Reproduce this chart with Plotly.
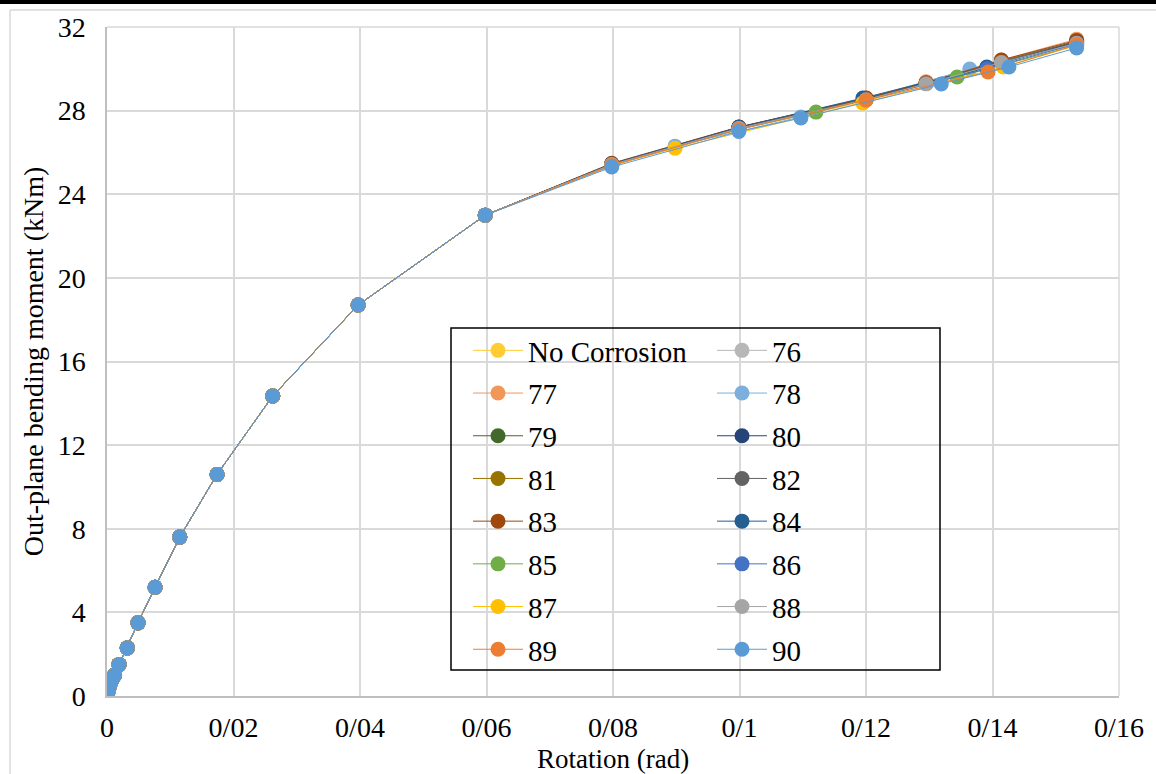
import plotly.graph_objects as go

# ---- data ----
common_x = [0, 0.0002, 0.0004, 0.0006, 0.0009, 0.0012, 0.0019, 0.0032, 0.0049,
            0.0076, 0.0115, 0.0174, 0.0262, 0.0397, 0.0598]
common_y = [0.1, 0.25, 0.45, 0.65, 0.85, 1.0, 1.5, 2.3, 3.5,
            5.2, 7.6, 10.6, 14.35, 18.7, 23.0]

names = ["No Corrosion", "76", "77", "78", "79", "80", "81", "82",
         "83", "84", "85", "86", "87", "88", "89", "90"]
colors = ["#FFCD33", "#B7B7B7", "#F1975A", "#7CAFDD", "#43682B", "#264478",
          "#997300", "#636363", "#9E480E", "#255E91", "#70AD47", "#4472C4",
          "#FFC000", "#A5A5A5", "#ED7D31", "#5B9BD5"]

tail_x = {
    "No Corrosion": [0.0798, 0.0999, 0.1195, 0.1295, 0.1414, 0.1533],
    "76": [0.0798, 0.0999, 0.1200, 0.1295, 0.1414, 0.1533],
    "77": [0.0798, 0.0999, 0.1200, 0.1295, 0.1414, 0.1533],
    "78": [0.0798, 0.0898, 0.1097, 0.1364, 0.1533],
    "79": [0.0798, 0.0999, 0.1200, 0.1295, 0.1414, 0.1533],
    "80": [0.0798, 0.0999, 0.1200, 0.1391, 0.1533],
    "81": [0.0798, 0.0999, 0.1200, 0.1295, 0.1414, 0.1533],
    "82": [0.0798, 0.0999, 0.1200, 0.1295, 0.1414, 0.1533],
    "83": [0.0798, 0.0999, 0.1200, 0.1295, 0.1414, 0.1533],
    "84": [0.0798, 0.0999, 0.1195, 0.1391, 0.1533],
    "85": [0.0798, 0.0999, 0.1121, 0.1344, 0.1533],
    "86": [0.0798, 0.0999, 0.1200, 0.1391, 0.1533],
    "87": [0.0798, 0.0898, 0.1195, 0.1417, 0.1533],
    "88": [0.0798, 0.0999, 0.1200, 0.1295, 0.1414, 0.1533],
    "89": [0.0798, 0.0999, 0.1200, 0.1393, 0.1533],
    "90": [0.0798, 0.0999, 0.1097, 0.1319, 0.1426, 0.1533],
}
tail_y = {
    "No Corrosion": [25.40, 27.15, 28.40, 29.30, 30.30, 31.25],
    "76": [25.42, 27.18, 28.55, 29.30, 30.35, 31.30],
    "77": [25.45, 27.20, 28.60, 29.38, 30.42, 31.42],
    "78": [25.35, 26.30, 27.70, 29.99, 31.15],
    "79": [25.42, 27.18, 28.55, 29.30, 30.32, 31.28],
    "80": [25.45, 27.20, 28.58, 30.05, 31.30],
    "81": [25.45, 27.20, 28.58, 29.32, 30.38, 31.32],
    "82": [25.45, 27.20, 28.58, 29.32, 30.36, 31.30],
    "83": [25.48, 27.22, 28.60, 29.32, 30.42, 31.36],
    "84": [25.45, 27.20, 28.60, 30.09, 31.25],
    "85": [25.40, 27.10, 27.93, 29.61, 31.12],
    "86": [25.40, 27.15, 28.52, 30.00, 31.20],
    "87": [25.38, 26.20, 28.37, 30.09, 31.12],
    "88": [25.42, 27.15, 28.52, 29.28, 30.30, 31.22],
    "89": [25.38, 27.10, 28.50, 29.85, 31.15],
    "90": [25.30, 27.00, 27.65, 29.27, 30.09, 31.00],
}

x_tickvals = [0, 0.02, 0.04, 0.06, 0.08, 0.10, 0.12, 0.14, 0.16]
x_ticktext = ["0", "0/02", "0/04", "0/06", "0/08", "0/1", "0/12", "0/14", "0/16"]
y_tickvals = [0, 4, 8, 12, 16, 20, 24, 28, 32]
x_title = "Rotation (rad)"
y_title = "Out-plane bending moment (kNm)"

FONT = "Liberation Serif"
FS = 28

# plot-area pixel geometry
L, R, T, B = 107, 1119, 27, 696
W, H = 1156, 774
def px(xp):
    return (xp - L) / (R - L)
def py(yp):
    return (B - yp) / (B - T)

fig = go.Figure()
for i, (n, c) in enumerate(zip(names, colors)):
    fig.add_trace(go.Scatter(
        x=common_x + tail_x[n], y=common_y + tail_y[n],
        mode="lines+markers", name=n,
        line=dict(color=c, width=1),
        marker=dict(color=c, size=15, line=dict(width=0)),
        legend="legend" if i % 2 == 0 else "legend2",
        legendgroup=n,
    ))

legend_common = dict(
    font=dict(family=FONT, size=29, color="black"),
    bgcolor="rgba(0,0,0,0)", borderwidth=0,
    yanchor="top", xanchor="left",
    traceorder="grouped", tracegroupgap=2, itemwidth=50,
)

fig.update_layout(
    width=W, height=H,
    margin=dict(l=L, r=W - R, t=T, b=H - B, autoexpand=False),
    paper_bgcolor="white", plot_bgcolor="white",
    font=dict(family=FONT, size=FS, color="black"),
    showlegend=True,
    legend=dict(x=px(468), y=py(325), **legend_common),
    legend2=dict(x=px(712), y=py(325), **legend_common),
    xaxis=dict(
        range=[0, 0.16], tickvals=x_tickvals, ticktext=x_ticktext,
        showgrid=True, gridcolor="#D9D9D9", gridwidth=1.5,
        showline=True, linecolor="#BFBFBF", linewidth=1.5,
        zeroline=False, ticks="", ticklabelstandoff=6, automargin=False,
        tickfont=dict(family=FONT, size=FS, color="black"),
    ),
    yaxis=dict(
        range=[0, 32], tickvals=y_tickvals,
        showgrid=True, gridcolor="#D9D9D9", gridwidth=1.5,
        showline=True, linecolor="#BFBFBF", linewidth=1.5,
        zeroline=False, ticks="", ticklabelstandoff=14, automargin=False,
        tickfont=dict(family=FONT, size=FS, color="black"),
        title=dict(text=y_title, standoff=6,
                   font=dict(family=FONT, size=FS, color="black")),
    ),
    annotations=[
        dict(text=x_title, xref="paper", yref="paper", x=0.5, y=py(759),
             xanchor="center", yanchor="middle", showarrow=False,
             font=dict(family=FONT, size=27, color="black")),
    ],
    shapes=[
        # legend frame
        dict(type="rect", xref="paper", yref="paper",
             x0=px(451), x1=px(940), y0=py(670), y1=py(328),
             line=dict(color="black", width=1.5), fillcolor="rgba(0,0,0,0)",
             layer="above"),
        # plot area top/right border
        dict(type="line", xref="paper", yref="paper", x0=0, x1=1, y0=1, y1=1,
             line=dict(color="#D9D9D9", width=1.5), layer="below"),
        dict(type="line", xref="paper", yref="paper", x0=1, x1=1, y0=0, y1=1,
             line=dict(color="#D9D9D9", width=1.5), layer="below"),
        # outer chart border (left & top)
        dict(type="line", xref="paper", yref="paper", x0=px(10), x1=px(10),
             y0=py(10), y1=py(774), line=dict(color="#D9D9D9", width=1.5)),
        dict(type="line", xref="paper", yref="paper", x0=px(10), x1=px(1156),
             y0=py(10), y1=py(10), line=dict(color="#D9D9D9", width=1.5)),
        # top dark strip
        dict(type="rect", xref="paper", yref="paper", x0=px(0), x1=px(1156),
             y0=py(4), y1=py(0), line=dict(width=0), fillcolor="black"),
    ],
)

fig.write_html("out.html")
